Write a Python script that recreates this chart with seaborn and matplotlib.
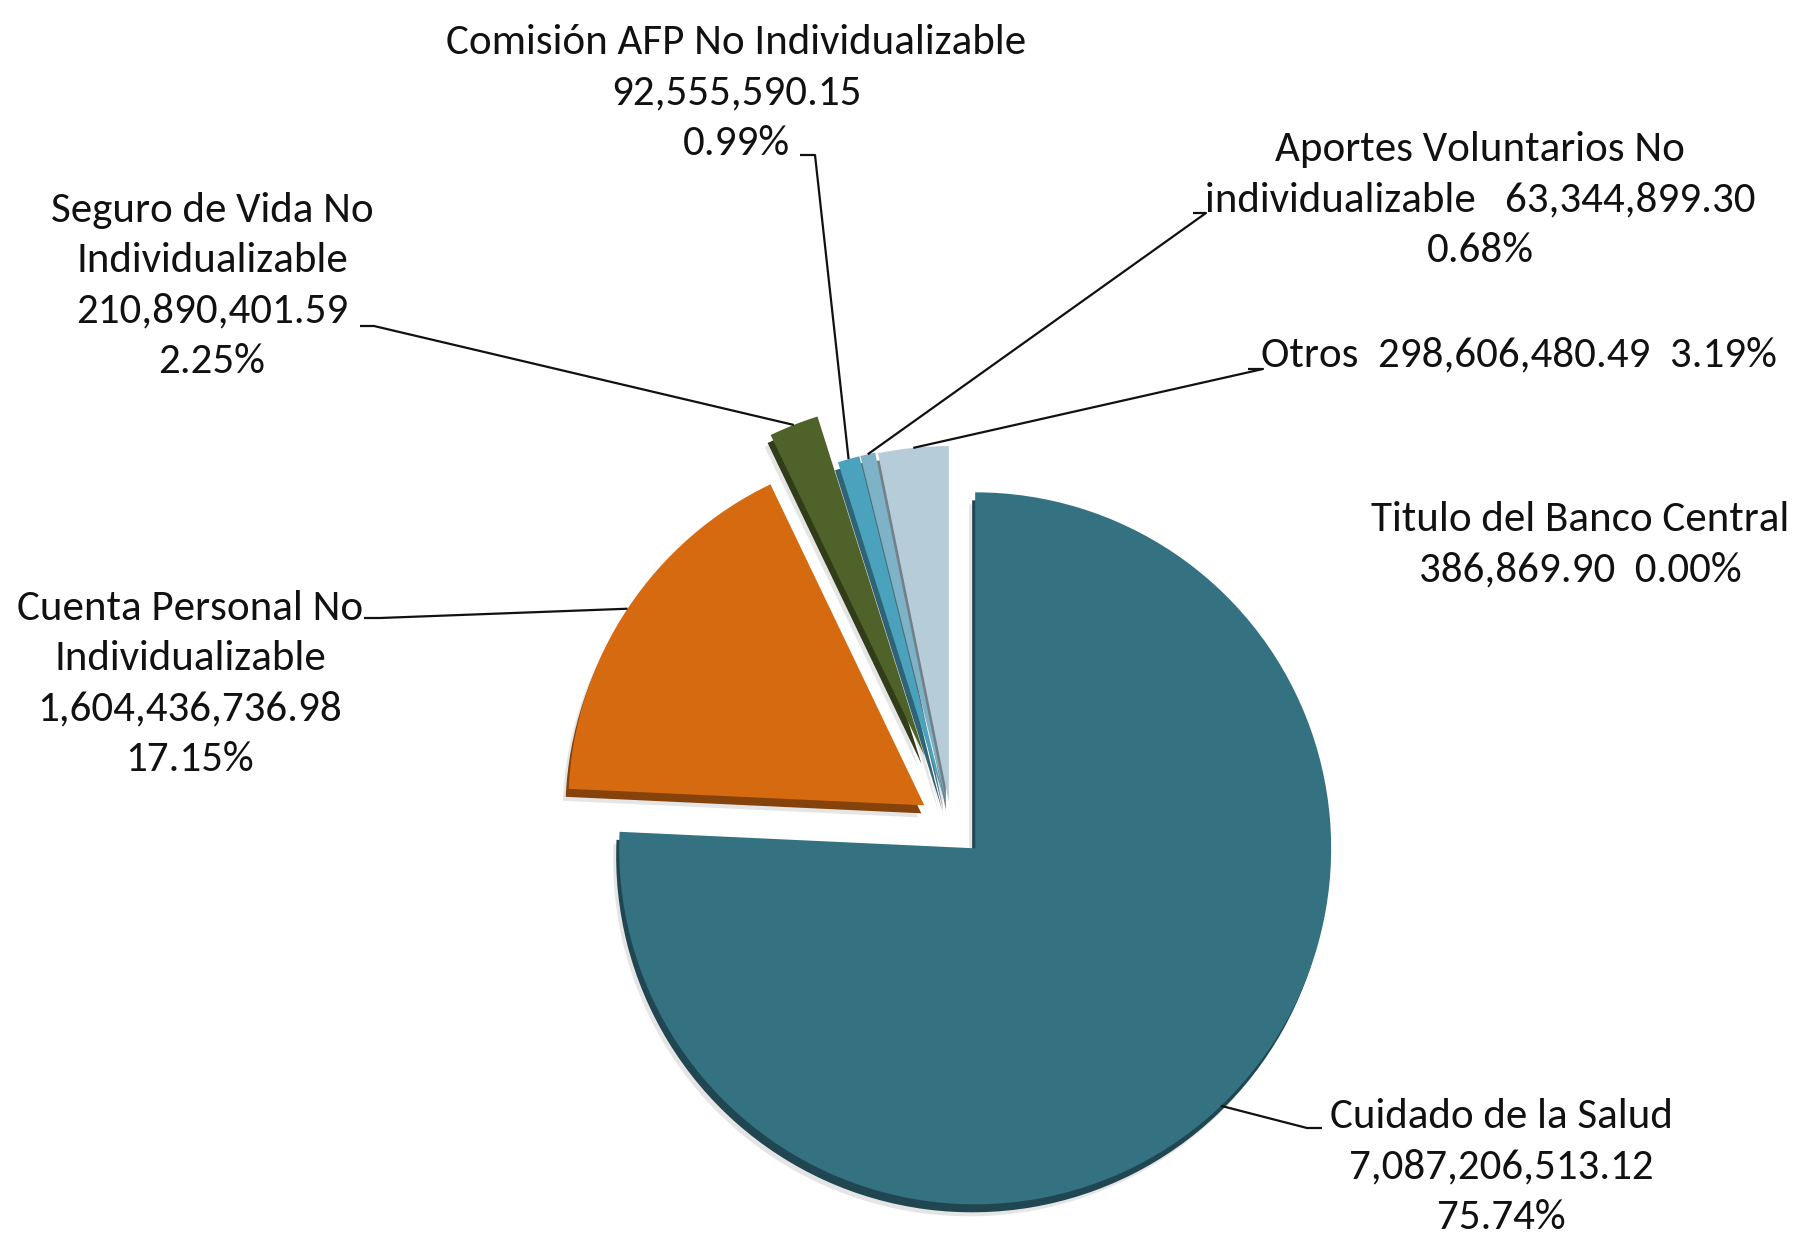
import numpy as np
import matplotlib
matplotlib.use("Agg")
import matplotlib.pyplot as plt
from matplotlib.patches import Wedge
from matplotlib import font_manager
from matplotlib.colors import to_rgb
import seaborn as sns

# ---- data -------------------------------------------------------------
categories = [
    "Cuidado de la Salud",
    "Cuenta Personal No Individualizable",
    "Seguro de Vida No Individualizable",
    "Comisión AFP No Individualizable",
    "Aportes Voluntarios No individualizable",
    "Titulo del Banco Central",
    "Otros",
]
amounts = [7087206513.12, 1604436736.98, 210890401.59, 92555590.15,
           63344899.30, 386869.90, 298606480.49]

# label layout for each category ({v}: amount, {p}: share)
label_templates = [
    "Cuidado de la Salud\n{v}\n{p}",
    "Cuenta Personal No\nIndividualizable\n{v}\n{p}",
    "Seguro de Vida No\nIndividualizable\n{v}\n{p}",
    "Comisión AFP No Individualizable\n{v}\n{p}",
    "Aportes Voluntarios No\nindividualizable   {v}\n{p}",
    "Titulo del Banco Central\n{v}  {p}",
    "Otros  {v}  {p}",
]

# ---- style ------------------------------------------------------------
colors = ["#347282", "#D66A10", "#4F6229", "#4AA2BD", "#7DB2C7", "#9AC0D0", "#B6CDD9"]
explode = [35, 32, 72, 22, 22, 22, 21]          # offsets in pixels
W, H = 1795, 1239
center_px = (951, 823)
radius = 356

sns.set_theme(style="white")

def pick_font(cands):
    for c in cands:
        try:
            font_manager.findfont(font_manager.FontProperties(family=c),
                                  fallback_to_default=False)
            return c
        except Exception:
            continue
    return "DejaVu Sans"

font = pick_font(["Carlito", "Liberation Sans Narrow", "Lato"])
plt.rcParams["font.family"] = [font, "DejaVu Sans"]

fig = plt.figure(figsize=(W / 100, H / 100), dpi=100)
ax = fig.add_axes([0, 0, 1, 1])

def px(x, y):
    return (x, H - y)

wedges, _ = ax.pie(amounts, colors=colors, startangle=90, counterclock=False,
                   explode=explode, radius=radius, center=px(*center_px),
                   wedgeprops=dict(linewidth=0))

# extruded sides and soft shadow beneath each slice
for w, c in zip(wedges, colors):
    w.set_zorder(3)
    cx, cy = w.center
    dark = tuple(v * 0.62 for v in to_rgb(c))
    shadow = Wedge((cx - 6, cy - 12), w.r, w.theta1, w.theta2,
                   facecolor="#000000", alpha=0.10, linewidth=0, zorder=1)
    side = Wedge((cx - 3, cy - 8), w.r, w.theta1, w.theta2,
                 facecolor=dark, linewidth=0, zorder=2)
    ax.add_patch(shadow)
    ax.add_patch(side)

# ---- labels -----------------------------------------------------------
total = sum(amounts)
label_pos = [(1501, 1167), (190, 684), (212, 286), (736, 93),
             (1480, 200), (1580, 545), (1519, 355)]
# leader line: elbow then end point next to the text (pixels)
leaders = {
    0: [(1307, 1128), (1322, 1128)],
    1: [(380, 618), (364, 618)],
    2: [(374, 326), (360, 326)],
    3: [(815, 155), (800, 155)],
    4: [(1206, 213), (1193, 213)],
    6: [(1263, 369), (1248, 369)],
}

for i, (tmpl, amt) in enumerate(zip(label_templates, amounts)):
    txt = tmpl.format(v=f"{amt:,.2f}", p=f"{amt / total * 100:.2f}%")
    ax.text(*px(*label_pos[i]), txt, ha="center", va="center",
            fontsize=31, linespacing=1.45, color="#111111", zorder=5)
    if i in leaders:
        w = wedges[i]
        mid = np.deg2rad((w.theta1 + w.theta2) / 2)
        ex = w.center[0] + w.r * np.cos(mid)
        ey = w.center[1] + w.r * np.sin(mid)
        pts = [(ex, ey)] + [px(*p) for p in leaders[i]]
        xs, ys = zip(*pts)
        ax.plot(xs, ys, color="#111111", lw=1.6, zorder=6,
                solid_capstyle="butt")

ax.set_xlim(0, W)
ax.set_ylim(0, H)
ax.set_aspect("equal")
ax.axis("off")
fig.savefig("out.png", dpi=100, facecolor="white")
